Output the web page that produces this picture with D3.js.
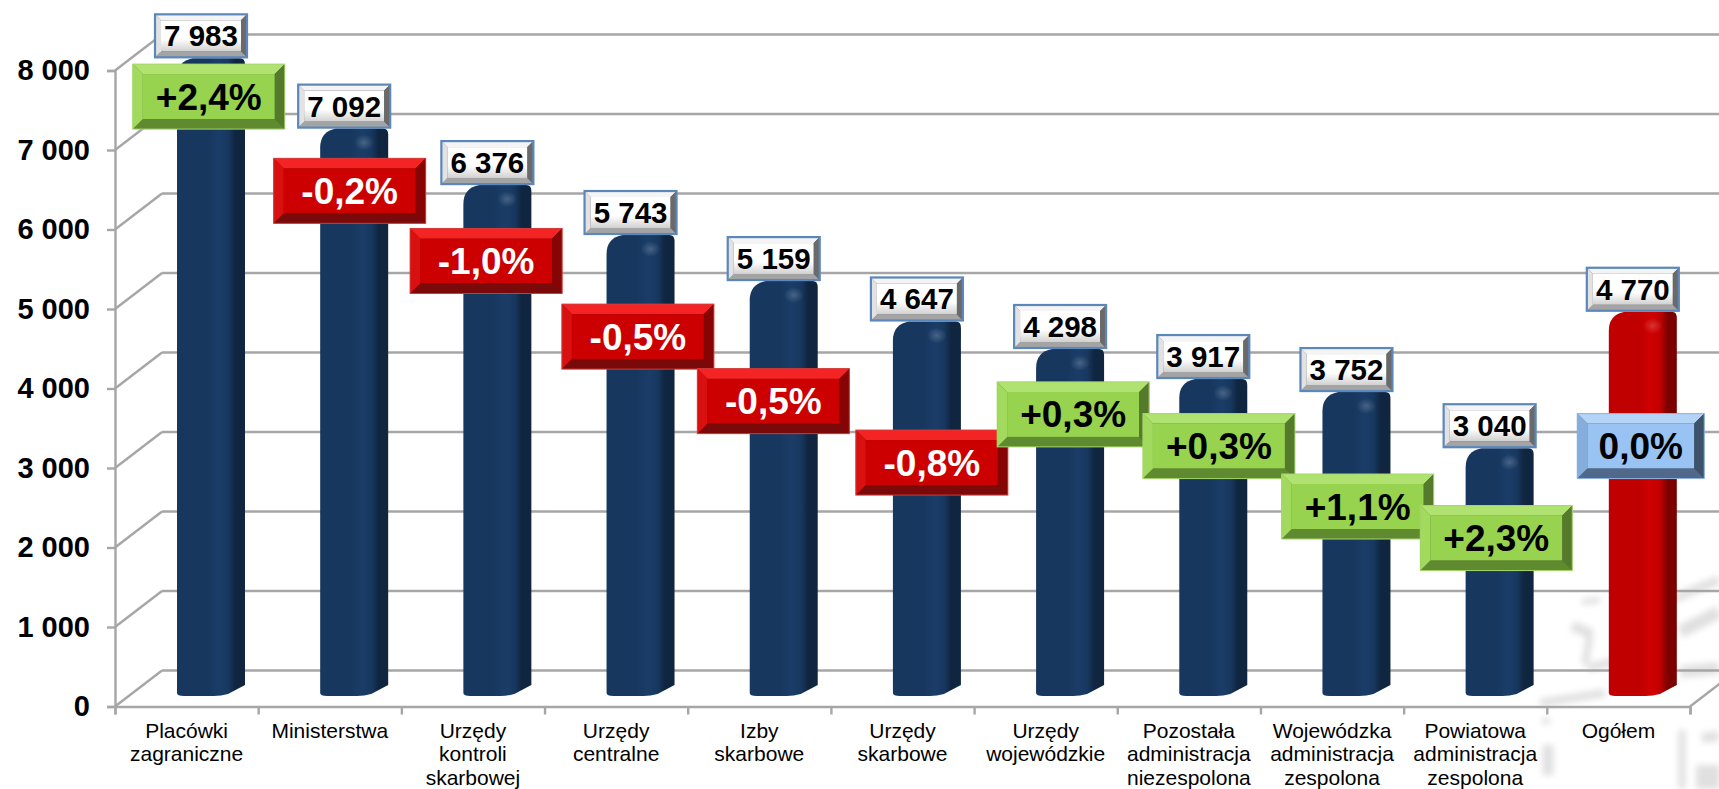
<!DOCTYPE html>
<html lang="pl">
<head>
<meta charset="utf-8">
<script src="https://cdn.jsdelivr.net/npm/d3@7"></script>
<style>
html,body{margin:0;padding:0;background:#fff;overflow:hidden}
svg{display:block}
text{font-family:"Liberation Sans",Arial,sans-serif}
</style>
</head>
<body>
<svg id="chart" width="1719" height="789"></svg>
<script>
const categories = ["Placówki zagraniczne","Ministerstwa","Urzędy kontroli skarbowej","Urzędy centralne","Izby skarbowe","Urzędy skarbowe","Urzędy wojewódzkie","Pozostała administracja niezespolona","Wojewódzka administracja zespolona","Powiatowa administracja zespolona","Ogółem"];
const values = [7983,7092,6376,5743,5159,4647,4298,3917,3752,3040,4770];
const changes = [2.4,-0.2,-1.0,-0.5,-0.5,-0.8,0.3,0.3,1.1,2.3,0.0];
const tickValues = [0,1000,2000,3000,4000,5000,6000,7000,8000];
// where each percentage badge sits: height in axis units, and position across the category band
const badgeLevels = [7498,6303,5414,4455,3637,2858,3469,3067,2301,1901,3067];
const badgeAcross = [.655,.639,.592,.652,.598,.705,.692,.710,.679,.647,.656];

const W=1719,H=789;
const svg=d3.select("#chart");
const defs=svg.append("defs");
const nf=v=>String(v).replace(/\B(?=(\d{3})+$)/g," ");
const pf=v=>(v>0?"+":"")+v.toFixed(1).replace(".",",")+"%";

const x=d3.scaleBand().domain(categories).range([115,1690]).padding(0);
const yAxisScale=d3.scaleLinear().domain([0,8000]).range([706.5,70.5]);
const yBar=d3.scaleLinear().domain([0,8000]).range([688,57]);
const barFoot=yBar(0)+8;
const depthX=47,depthY=36;

// gradients
function hGrad(id,stops){
  const g=defs.append("linearGradient").attr("id",id);
  stops.forEach(s=>g.append("stop").attr("offset",s[0]).attr("stop-color",s[1]));
}
hGrad("barBlue",[[0,"#17375e"],[.45,"#17375e"],[.62,"#1a3d68"],[.76,"#17375e"],[.86,"#10253f"],[1,"#10253f"]]);
hGrad("barRed",[[0,"#c00000"],[.45,"#c00000"],[.62,"#d00000"],[.76,"#c00000"],[.86,"#7c0000"],[1,"#7c0000"]]);
const vg=defs.append("linearGradient").attr("id","boxFace").attr("x1",0).attr("x2",0).attr("y1",0).attr("y2",1);
[[0,"#ffffff"],[.6,"#ffffff"],[1,"#d0d0d0"]].forEach(s=>vg.append("stop").attr("offset",s[0]).attr("stop-color",s[1]));
const hi=defs.append("radialGradient").attr("id","capHi");
[[0,"#fff",.2],[1,"#fff",0]].forEach(s=>hi.append("stop").attr("offset",s[0]).attr("stop-color",s[1]).attr("stop-opacity",s[2]));
defs.append("filter").attr("id","wmBlur").attr("x","-20%").attr("y","-20%").attr("width","140%").attr("height","140%")
  .append("feGaussianBlur").attr("stdDeviation",3);

// faint background picture, bottom right
const wm=svg.append("g").attr("fill","none").attr("stroke","#e0e0e0").attr("filter","url(#wmBlur)");
[
 ["M1540,703 L1605,693",8],["M1680,632 L1719,612",13],["M1582,602 L1600,600",6],["M1670,600 L1719,580",9],
 ["M1572,626 L1592,634",10],["M1590,634 L1585,665",7],["M1588,668 L1612,662",8],["M1680,672 L1719,668",12],
 ["M1546,718 L1546,724",8],["M1548,745 L1548,775",11],["M1682,730 L1682,789",7],["M1702,738 L1719,736",10],
 ["M1708,765 L1708,789",24]
].forEach(d=>wm.append("path").attr("d",d[0]).attr("stroke-width",d[1]));

// grid on the back wall and on the side wall
const grey="#a6a6a6";
const grid=svg.append("g").attr("stroke",grey).attr("stroke-width",2.4).attr("fill","none");
grid.selectAll(".back").data(tickValues).join("line").attr("class","back")
  .attr("x1",x.range()[0]+depthX).attr("x2",W)
  .attr("y1",d=>yAxisScale(d)-depthY).attr("y2",d=>yAxisScale(d)-depthY);
grid.selectAll(".wall").data(tickValues).join("line").attr("class","wall")
  .attr("x1",x.range()[0]).attr("x2",x.range()[0]+depthX)
  .attr("y1",d=>yAxisScale(d)).attr("y2",d=>yAxisScale(d)-depthY);
grid.append("line").attr("x1",x.range()[1]).attr("x2",x.range()[1]+depthX)
  .attr("y1",yAxisScale(0)).attr("y2",yAxisScale(0)-depthY);

// y axis
const yG=svg.append("g").attr("transform",`translate(${x.range()[0]},0)`)
  .call(d3.axisLeft(yAxisScale).tickValues(tickValues).tickFormat(nf).tickSize(8).tickPadding(17));
yG.selectAll("path,line").attr("stroke",grey).attr("stroke-width",2.4);
yG.selectAll("text").attr("font-size",29).attr("font-weight","bold").attr("fill","#000")
  .style("font-family",'"Liberation Sans",Arial,sans-serif');

// x axis: ticks at band edges, labels in the band middle
const edgeTicks=categories.map(c=>x(c)).concat([x.range()[1]]);
const xG=svg.append("g").attr("transform",`translate(0,${yAxisScale(0)})`)
  .call(d3.axisBottom(d3.scaleLinear().domain(x.range()).range(x.range())).tickValues(edgeTicks).tickFormat("").tickSize(8));
xG.selectAll("path,line").attr("stroke",grey).attr("stroke-width",2.4);
const labels=svg.append("g").attr("font-size",21).attr("fill","#000").attr("text-anchor","middle");
categories.forEach(c=>{
  const t=labels.append("text").attr("x",x(c)+x.bandwidth()/2).attr("y",737.5);
  c.split(" ").forEach((w,i)=>t.append("tspan").attr("x",x(c)+x.bandwidth()/2).attr("dy",i?23.5:0).text(w));
});

// bars
const barW=68,barLeft=62,sideW=12;
function barPath(x0,top,b){
  const x1=x0+barW;
  return `M${x0},${top+19} Q${x0},${top+3} ${x0+16},${top} L${x1-5},${top} Q${x1},${top} ${x1},${top+6}`+
    ` L${x1},${b-11} L${x1-17},${b-2} Q${x1-24},${b} ${x1-31},${b} L${x0+7},${b} Q${x0},${b} ${x0},${b-3} Z`;
}
const bars=svg.append("g").selectAll("g").data(categories).join("g");
bars.append("path")
  .attr("d",(c,i)=>barPath(x(c)+barLeft,yBar(values[i]),barFoot))
  .attr("fill",(c,i)=>i===categories.length-1?"url(#barRed)":"url(#barBlue)");
bars.append("ellipse").attr("cx",c=>x(c)+barLeft+barW-24).attr("rx",10).attr("ry",8)
  .attr("cy",(c,i)=>yBar(values[i])+14).attr("fill","url(#capHi)");

// bevelled box
function bevel(g,cx,cy,w,h,b,c){
  const l=cx-w/2,r=cx+w/2,t=cy-h/2,u=cy+h/2;
  const poly=(pts,f)=>g.append("polygon").attr("points",pts.map(p=>p.join(",")).join(" ")).attr("fill",f);
  g.append("rect").attr("x",l).attr("y",t).attr("width",w).attr("height",h).attr("fill",c.right);
  g.append("rect").attr("x",l+b).attr("y",t+b).attr("width",w-2*b).attr("height",h-2*b).attr("fill",c.face);
  poly([[l,t],[r,t],[r-b,t+b],[l+b,t+b]],c.top);
  poly([[l,u],[r,u],[r-b,u-b],[l+b,u-b]],c.bottom);
  poly([[l,t],[l+b,t+b],[l+b,u-b],[l,u]],c.left);
  poly([[r,t],[r-b,t+b],[r-b,u-b],[r,u]],c.right);
  g.append("rect").attr("x",l).attr("y",t).attr("width",w).attr("height",h).attr("fill","none")
    .attr("stroke",c.edge).attr("stroke-width",c.edgeW);
}
const palette={
  up:{face:"#97d34f",top:"#b0e272",bottom:"#5f8a30",left:"#a2da5e",right:"#557a2c",edge:"#a5d86a",edgeW:1,text:"#000"},
  down:{face:"#cc0000",top:"#f52424",bottom:"#7a0a0a",left:"#d81010",right:"#860404",edge:"#d63a3a",edgeW:1,text:"#fff"},
  flat:{face:"#99c3f3",top:"#b4d4f7",bottom:"#50698a",left:"#86aedd",right:"#3d536c",edge:"#8fb6e6",edgeW:1,text:"#000"},
  value:{face:"url(#boxFace)",top:"#f4f4f4",bottom:"#a4a4a4",left:"#e2e2e2",right:"#6a6a6a",edge:"#5b87ba",edgeW:2.2,text:"#000"}
};

// value boxes
categories.forEach((c,i)=>{
  const cx=x(c)+barLeft+barW/2-10, h=43, cy=yBar(values[i])-1-h/2;
  const g=svg.append("g");
  bevel(g,cx,cy,92,h,6,palette.value);
  g.append("text").attr("x",cx).attr("y",cy+10.5).attr("text-anchor","middle")
    .attr("font-size",29.5).attr("font-weight","bold").attr("fill","#000").text(nf(values[i]));
});

// percentage badges
categories.forEach((c,i)=>{
  const v=changes[i], kind=v>0?"up":v<0?"down":"flat", w=kind==="flat"?127:152;
  const cx=x(c)+x.bandwidth()*badgeAcross[i], cy=yBar(badgeLevels[i]);
  const g=svg.append("g");
  bevel(g,cx,cy,w,65,10,palette[kind]);
  g.append("text").attr("x",cx).attr("y",cy+13).attr("text-anchor","middle")
    .attr("font-size",37).attr("font-weight","bold").attr("fill",palette[kind].text).text(pf(v));
});
</script>
</body>
</html>
